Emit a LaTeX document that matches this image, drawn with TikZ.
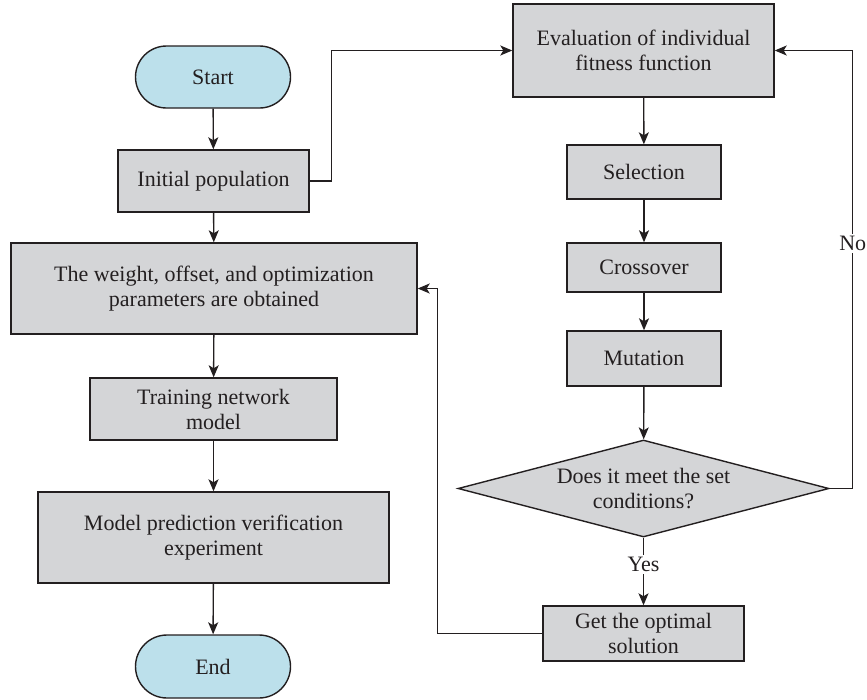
\documentclass[tikz,border=0pt]{standalone}
\usepackage{fontspec}
\setmainfont{Liberation Serif}
\usetikzlibrary{shapes.geometric,shapes.misc,arrows.meta}
\definecolor{boxgray}{HTML}{D4D5D7}
\definecolor{termblue}{HTML}{BCE0EB}
\definecolor{ink}{HTML}{231F20}

\begin{document}
\begin{tikzpicture}[x=1pt,y=-1pt,->,>={Stealth[length=12pt,width=10pt,inset=3pt]},
                    line width=1.4pt,color=ink,
                    every node/.style={font=\fontsize{22}{25}\selectfont},
                    box/.style={rectangle,draw,fill=boxgray,align=center,inner sep=0pt},
                    term/.style={rounded rectangle,draw,fill=termblue,inner sep=0pt,
                                 minimum width=155pt},
                    cond/.style={diamond,draw,fill=boxgray,align=center,inner sep=0pt,
                                 shape aspect=3.8}]

  \useasboundingbox (0,0) rectangle (867,699);

  % left column
  \node[term,minimum height=62pt] (start) at (213,77) {Start};
  \node[box,minimum width=191pt,minimum height=62pt] (init) at (213.5,181) {Initial population};
  \node[box,minimum width=406pt,minimum height=91pt] (weight) at (214,288.5)
    {The weight, offset, and optimization\\parameters are obtained};
  \node[box,minimum width=247pt,minimum height=62pt] (train) at (213.5,409) {Training network\\model};
  \node[box,minimum width=351pt,minimum height=91pt] (model) at (213.5,537.5)
    {Model prediction verification\\experiment};
  \node[term,minimum height=63pt] (stop) at (213,666.5) {End};

  % right column
  \node[box,minimum width=261pt,minimum height=93pt] (eval) at (643.5,50.5)
    {Evaluation of individual\\fitness function};
  \node[box,minimum width=154pt,minimum height=54pt] (sel) at (644,172) {Selection};
  \node[box,minimum width=154pt,minimum height=49pt] (cross) at (644,267.5) {Crossover};
  \node[box,minimum width=154pt,minimum height=55pt] (mut) at (644,358.5) {Mutation};
  \node[cond,minimum width=371pt,minimum height=97pt] (check) at (643.5,488.5)
    {Does it meet the set\\conditions?};
  \node[box,minimum width=201pt,minimum height=55pt] (best) at (643.5,633.5) {Get the optimal\\solution};

  \path (start) edge (init)
        (init) edge (weight)
        (weight) edge (train)
        (train) edge (model)
        (model) edge (stop)
        (eval) edge (sel)
        (sel) edge (cross)
        (cross) edge (mut)
        (mut) edge (check)
        (check) edge node[fill=white,inner sep=2pt,pos=0.4] {Yes} (best);

  \draw (init.east) -- ++(22,0) |- (eval.west);
  \draw (check.east) -- ++(23,0) |- node[pos=0.28,fill=white,inner sep=2pt] {No} (eval.east);
  \draw (best.west) -- ++(-105,0) |- (weight.east); % back to the left column

\end{tikzpicture}
\end{document}
